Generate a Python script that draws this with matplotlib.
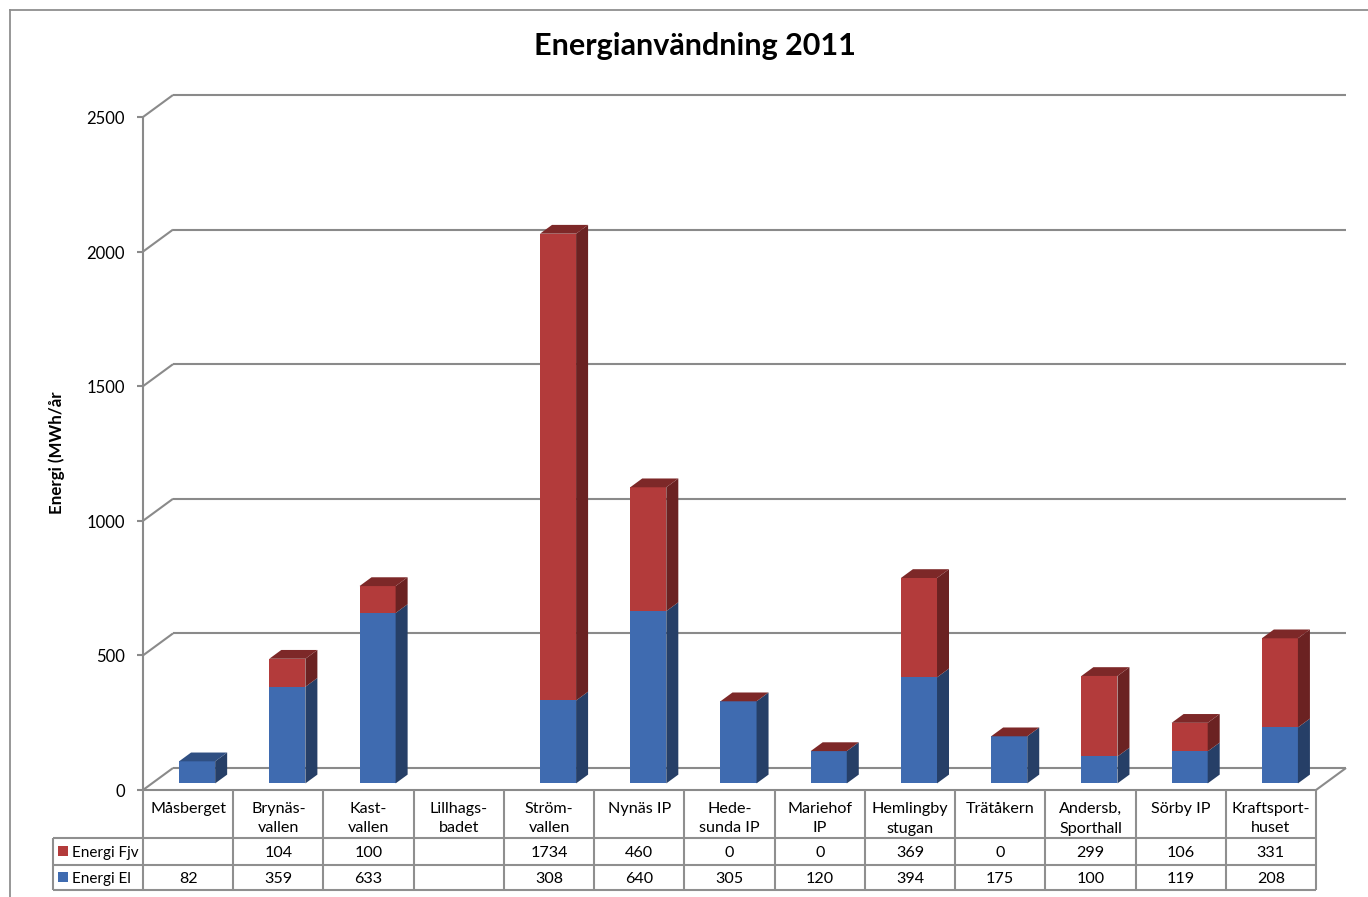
import numpy as np
import matplotlib
matplotlib.use("Agg")
import matplotlib.pyplot as plt
from matplotlib.patches import Polygon, Rectangle
from matplotlib.lines import Line2D
from matplotlib import transforms

# ---- data -------------------------------------------------------------
categories = ["Måsberget", "Brynäs-\nvallen", "Kast-\nvallen", "Lillhags-\nbadet",
              "Ström-\nvallen", "Nynäs IP", "Hede-\nsunda IP", "Mariehof\nIP",
              "Hemlingby\nstugan", "Trätåkern", "Andersb,\nSporthall", "Sörby IP",
              "Kraftsport-\nhuset"]
energi_fjv = np.array([np.nan, 104, 100, np.nan, 1734, 460, 0, 0, 369, 0, 299, 106, 331])
energi_el = np.array([82, 359, 633, np.nan, 308, 640, 305, 120, 394, 175, 100, 119, 208])
series_names = ["Energi Fjv", "Energi El"]
y_ticks = [0, 500, 1000, 1500, 2000, 2500]
title = "Energianvändning 2011"
y_label = "Energi (MWh/år"

# ---- style ------------------------------------------------------------
BLUE = {"front": "#3f6bb0", "side": "#263f67", "top": "#2f4f82"}
RED = {"front": "#b33b3b", "side": "#6b2222", "top": "#7d2828"}
GRID = "#8a8a8a"
LINE = "#8f8f8f"
TXT = "#000000"

W, H, DPI = 1368, 897, 100
plt.rcParams["font.family"] = ["Lato", "DejaVu Sans"]
fig = plt.figure(figsize=(W / DPI, H / DPI), dpi=DPI)

# plot area (front plane), in pixels from the top-left corner
PX0, PX1 = 143, 1316
PY_TOP, PY_BOT = 117, 790
n = len(categories)
ymax = y_ticks[-1]
ax = fig.add_axes([PX0 / W, 1 - PY_BOT / H, (PX1 - PX0) / W, (PY_BOT - PY_TOP) / H])
ax.set_xlim(-0.5, n - 0.5)
ax.set_ylim(0, ymax)
ax.axis("off")

px_per_x = (PX1 - PX0) / n
px_per_y = (PY_BOT - PY_TOP) / ymax
# oblique projection: full depth moves 30 px right and 22 px up
DX = 30 / px_per_x
DY = 22 / px_per_y

# transform: x in data units, y in pixels from the top of the figure
fig_px = transforms.Affine2D().scale(1 / W, -1 / H).translate(0, 1) + fig.transFigure
tab_tr = transforms.blended_transform_factory(ax.transData, fig_px)

lw_grid = 1.5
kw_line = dict(color=GRID, lw=lw_grid, clip_on=False, solid_capstyle="butt")

# back wall gridlines and left-wall diagonals
for v in y_ticks:
    ax.plot([-0.5, -0.5 + DX], [v, v + DY], zorder=1, **kw_line)
    ax.plot([-0.5 + DX, n - 0.5 + DX], [v + DY, v + DY], zorder=1, **kw_line)
    # tick mark and label on the front axis
    ax.plot([-0.5 - 6 / px_per_x, -0.5], [v, v], zorder=2, **kw_line)
    ax.text(-0.5 - 18 / px_per_x, v - 2 / px_per_y, f"{v}", ha="right", va="center",
            fontsize=12, color=TXT)

# vertical axis and floor
ax.plot([-0.5, -0.5], [0, ymax], zorder=2, **kw_line)
ax.plot([-0.5, n - 0.5], [0, 0], zorder=5, **kw_line)
ax.plot([n - 0.5, n - 0.5 + DX], [0, DY], zorder=5, **kw_line)

# 3D stacked columns
d0, d1 = 0.3, 0.7
bw = 0.4
ddx, ddy = (d1 - d0) * DX, (d1 - d0) * DY
for i in range(n):
    segs = []
    base = 0.0
    for val, col in ((energi_el[i], BLUE), (energi_fjv[i], RED)):
        if np.isnan(val):
            continue
        segs.append((base, val, col))
        base += val
    for k, (b, h, col) in enumerate(segs):
        xl = i - bw / 2 + d0 * DX
        xr = i + bw / 2 + d0 * DX
        yb = b + d0 * DY
        yt = b + h + d0 * DY
        if h > 0:
            ax.add_patch(Rectangle((xl, yb), xr - xl, yt - yb, facecolor=col["front"],
                                   edgecolor="none", zorder=3, clip_on=False))
            ax.add_patch(Polygon([(xr, yb), (xr + ddx, yb + ddy), (xr + ddx, yt + ddy), (xr, yt)],
                                 closed=True, facecolor=col["side"], edgecolor="none",
                                 zorder=3, clip_on=False))
        if k == len(segs) - 1:
            ax.add_patch(Polygon([(xl, yt), (xr, yt), (xr + ddx, yt + ddy), (xl + ddx, yt + ddy)],
                                 closed=True, facecolor=col["top"], edgecolor="none",
                                 zorder=4, clip_on=False))

# ---- data table ---------------------------------------------------------
ROW_TOP, ROW_HDR, ROW_1, ROW_2 = 790, 838, 865, 890
LEG_X = -0.5 - (PX0 - 53) / px_per_x
kw_tab = dict(color=LINE, lw=1.5, transform=tab_tr, clip_on=False, solid_capstyle="butt")


def tline(xs, ys):
    fig.add_artist(Line2D(xs, ys, **kw_tab))


for k in range(n + 1):
    xb = -0.5 + k
    tline([xb, xb], [ROW_TOP, ROW_2])
for yy in (ROW_HDR, ROW_1, ROW_2):
    tline([LEG_X, n - 0.5], [yy, yy])
tline([LEG_X, LEG_X], [ROW_HDR, ROW_2])

for i, name in enumerate(categories):
    fig.text(i, 802, name, transform=tab_tr, ha="center", va="top",
             fontsize=11.6, linespacing=1.5, color=TXT)
    for vals, yy in ((energi_fjv, (ROW_HDR + ROW_1) / 2), (energi_el, (ROW_1 + ROW_2) / 2)):
        if not np.isnan(vals[i]):
            fig.text(i, yy + 1.5, f"{int(vals[i])}", transform=tab_tr, ha="center",
                     va="center", fontsize=11.6, color=TXT)

# legend keys inside the table
for name, col, yy in ((series_names[0], RED, (ROW_HDR + ROW_1) / 2),
                      (series_names[1], BLUE, (ROW_1 + ROW_2) / 2)):
    fig.add_artist(Rectangle((58, yy - 5), 10, 10, transform=fig_px,
                             facecolor=col["front"], edgecolor="none"))
    fig.text(72, yy + 1, name, transform=fig_px, ha="left", va="center",
             fontsize=11, color=TXT)

# ---- titles and chart frame -----------------------------------------------
fig.text(695, 46, title, transform=fig_px, ha="center", va="center",
         fontsize=22, fontweight="bold", color=TXT)
fig.text(57, 453, y_label, transform=fig_px, ha="center", va="center",
         rotation=90, fontsize=12.2, fontweight="bold", color=TXT)
fig.add_artist(Line2D([10, W + 5], [10, 10], color=LINE, lw=1.3, transform=fig_px))
fig.add_artist(Line2D([10, 10], [10, H + 5], color=LINE, lw=1.3, transform=fig_px))

fig.savefig("out.png", dpi=DPI, facecolor="white")
